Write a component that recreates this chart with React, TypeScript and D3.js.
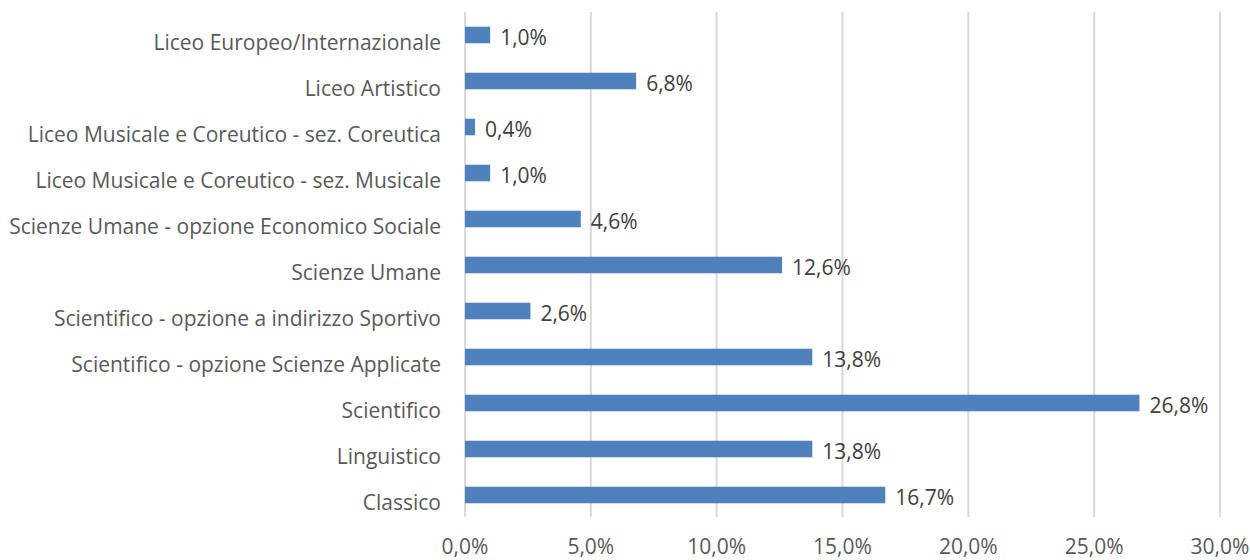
import React from "react";
import * as d3 from "d3";

const categories = [
  "Liceo Europeo/Internazionale",
  "Liceo Artistico",
  "Liceo Musicale e Coreutico - sez. Coreutica",
  "Liceo Musicale e Coreutico - sez. Musicale",
  "Scienze Umane - opzione Economico Sociale",
  "Scienze Umane",
  "Scientifico - opzione a indirizzo Sportivo",
  "Scientifico - opzione Scienze Applicate",
  "Scientifico",
  "Linguistico",
  "Classico",
];
const values = [1.0, 6.8, 0.4, 1.0, 4.6, 12.6, 2.6, 13.8, 26.8, 13.8, 16.7];
const ticks = [0, 5, 10, 15, 20, 25, 30];

const W = 1250;
const H = 560;
const FONT = "'Open Sans', sans-serif";
const FS = 21;

export default function App() {
  const x = d3.scaleLinear().domain([0, 30]).range([465, 1220]);
  const y = d3.scaleBand<string>().domain(categories).range([12, 518]).paddingInner(0.64).paddingOuter(0.32);
  const fmt = (v: number) => v.toFixed(1).replace(".", ",") + "%";
  return (
    <svg width={W} height={H} style={{ position: "absolute", left: 0, top: 0 }} fontFamily={FONT}>
      <rect width={W} height={H} fill="#fff" />
      {ticks.map((t) => (
        <line key={t} x1={x(t)} x2={x(t)} y1={12} y2={517} stroke="#d9d9d9" strokeWidth={2} />
      ))}
      {categories.map((c, i) => (
        <g key={c}>
          <rect x={x(0)} y={y(c)!} width={x(values[i]) - x(0)} height={y.bandwidth()} fill="#4f81bd" />
          <text
            x={x(values[i]) + 10}
            y={y(c)! + y.bandwidth() / 2 + 2}
            dominantBaseline="central"
            fontSize={FS}
            fill="#404040"
          >
            {fmt(values[i])}
          </text>
          <text
            x={441}
            y={y(c)! + y.bandwidth() / 2 + 7}
            dominantBaseline="central"
            textAnchor="end"
            fontSize={FS}
            fill="#595959"
          >
            {c}
          </text>
        </g>
      ))}
      {ticks.map((t) => (
        <text key={"t" + t} x={x(t)} y={546} dominantBaseline="central" textAnchor="middle" fontSize={FS} fill="#595959">
          {fmt(t)}
        </text>
      ))}
    </svg>
  );
}
